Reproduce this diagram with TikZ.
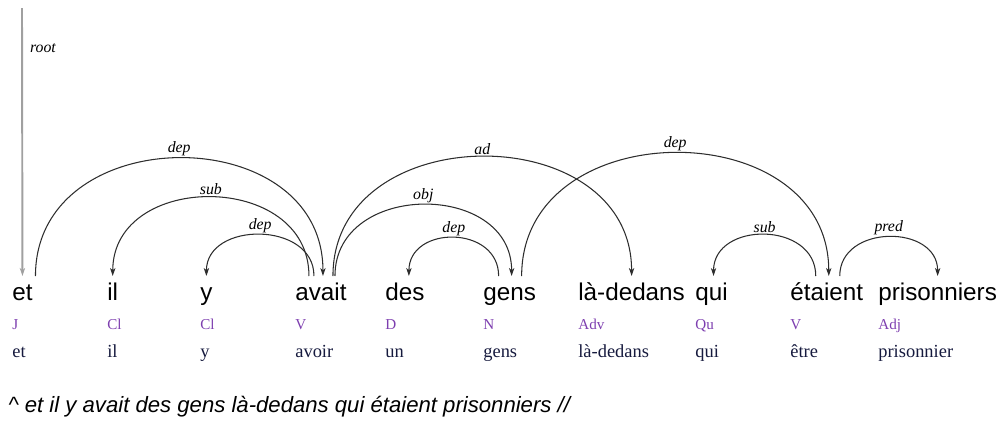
\documentclass[tikz,border=0pt]{standalone}
\usepackage{fontspec}
\setmainfont{Liberation Serif}
\setsansfont{Liberation Sans}
\usepackage{xcolor}
\usetikzlibrary{positioning, arrows.meta, calc}

\definecolor{tagpurple}{RGB}{125,62,175}
\definecolor{lemmanavy}{RGB}{22,26,62}
\definecolor{arcgray}{RGB}{45,45,45}
\definecolor{rootgray}{RGB}{160,160,160}

\begin{document}
\begin{tikzpicture}[
  x=0.02cm, y=-0.02cm,
  >=Stealth,
  word/.style={anchor=base west, inner sep=0pt, font=\sffamily\fontsize{13.8}{16}\selectfont},
  tag/.style={anchor=base west, inner sep=0pt, text=tagpurple, font=\fontsize{8.6}{10}\selectfont},
  lemma/.style={anchor=base west, inner sep=0pt, text=lemmanavy, font=\fontsize{10.5}{12}\selectfont},
  rel/.style={-{Stealth[length=4.5pt, width=3pt, inset=1.2pt]}, line width=0.6pt, color=arcgray},
  lbl/.style={font=\itshape\fontsize{9}{10}\selectfont, inner sep=1pt, text=black},
]
\useasboundingbox (0,0) rectangle (1000,423);

% ================= words =================
\node[word] (et) at (12,300) {et};
\node[word] (il) at (107,300) {il};
\node[word] (y) at (200,300) {y};
\node[word] (avait) at (295,300) {avait};
\node[word] (des) at (385,300) {des};
\node[word] (gens) at (483,300) {gens};
\node[word] (ladedans) at (578,300) {là-dedans};
\node[word] (qui) at (695,300) {qui};
\node[word] (etaient) at (790,300) {étaient};
\node[word] (prisonniers) at (878,300) {prisonniers};

% ================= tags =================
\node[tag] (t_et) at (12,329) {J};
\node[tag] (t_il) at (107,329) {Cl};
\node[tag] (t_y) at (200,329) {Cl};
\node[tag] (t_avait) at (295,329) {V};
\node[tag] (t_des) at (385,329) {D};
\node[tag] (t_gens) at (483,329) {N};
\node[tag] (t_ladedans) at (578,329) {Adv};
\node[tag] (t_qui) at (695,329) {Qu};
\node[tag] (t_etaient) at (790,329) {V};
\node[tag] (t_prisonniers) at (878,329) {Adj};

% ================= lemmas =================
\node[lemma] (l_et) at (12,357) {et};
\node[lemma] (l_il) at (107,357) {il};
\node[lemma] (l_y) at (200,357) {y};
\node[lemma] (l_avait) at (295,357) {avoir};
\node[lemma] (l_des) at (385,357) {un};
\node[lemma] (l_gens) at (483,357) {gens};
\node[lemma] (l_ladedans) at (578,357) {là-dedans};
\node[lemma] (l_qui) at (695,357) {qui};
\node[lemma] (l_etaient) at (790,357) {être};
\node[lemma] (l_prisonniers) at (878,357) {prisonnier};

% ================= root =================
\coordinate (top) at (22,8);
\draw[-{Stealth[length=4.5pt, width=3pt, inset=1.2pt]}, line width=1.1pt, color=rootgray] (top) -- ($(et.base)+(0,-24)$);
\node[lbl] (rootlbl) at (43,48) {root};

% ================= dependencies =================
\draw[rel] ($(et.base)+(13,-24)$) .. controls +(0,-157) and +(0,-157) .. ($(avait.base)+(2,-24)$) node[midway, above, lbl] {dep};
\draw[rel] ($(avait.base)+(-12,-24)$) .. controls +(0,-105) and +(0,-105) .. ($(il.base)+(0,-24)$) node[midway, above, lbl] {sub};
\draw[rel] ($(avait.base)+(-7,-24)$) .. controls +(0,-55) and +(0,-55) .. ($(y.base)+(0,-24)$) node[midway, above, lbl] {dep};
\draw[rel] ($(avait.base)+(12,-24)$) .. controls +(0,-159) and +(0,-159) .. ($(ladedans.base)+(0,-24)$) node[midway, above, lbl] {ad};
\draw[rel] ($(avait.base)+(14,-24)$) .. controls +(0,-95) and +(0,-95) .. ($(gens.base)+(2,-24)$) node[midway, above, lbl] {obj};
\draw[rel] ($(gens.base)+(-11,-24)$) .. controls +(0,-51) and +(0,-51) .. ($(des.base)+(4,-24)$) node[midway, above, lbl] {dep};
\draw[rel] ($(gens.base)+(12,-24)$) .. controls +(0,-164) and +(0,-164) .. ($(etaient.base)+(2,-24)$) node[midway, above, lbl] {dep};
\draw[rel] ($(etaient.base)+(-11,-24)$) .. controls +(0,-55) and +(0,-55) .. ($(qui.base)+(2,-24)$) node[midway, above, lbl] {sub};
\draw[rel] ($(etaient.base)+(13,-24)$) .. controls +(0,-52) and +(0,-52) .. ($(prisonniers.base)+(0,-24)$) node[midway, above, lbl] {pred};

% ================= sentence =================
\node[anchor=base west, inner sep=0pt, font=\sffamily\itshape\fontsize{12.6}{15}\selectfont] (sentence) at (8,412) {\^{} et il y avait des gens là-dedans qui étaient prisonniers //};

\end{tikzpicture}
\end{document}
